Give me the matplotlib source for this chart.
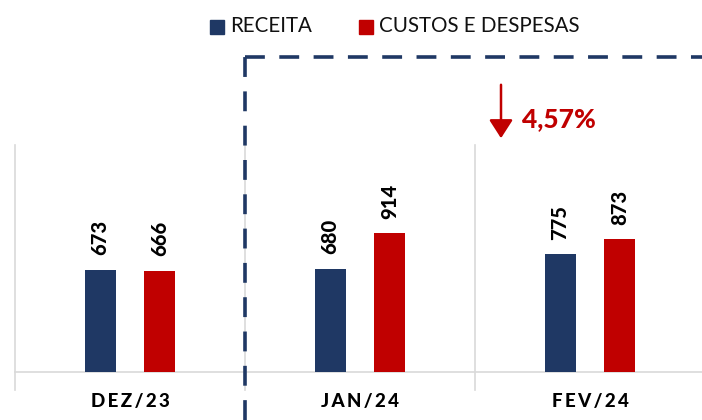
import matplotlib
matplotlib.use("Agg")
import matplotlib.pyplot as plt
from matplotlib.lines import Line2D

categories = ["DEZ/23", "JAN/24", "FEV/24"]
receita = [673, 680, 775]
custos = [666, 914, 873]
variacao = "4,57%"

NAVY = "#1F3864"
RED = "#C00000"
GRID = "#D9D9D9"

plt.rcParams["font.family"] = ["Lato", "DejaVu Sans"]

W, H = 702, 420
fig = plt.figure(figsize=(W / 100, H / 100), dpi=100)
ax = fig.add_axes([15 / W, 48 / H, 687 / W, 227 / H])

x = list(range(len(categories)))
width = 0.135
off = 0.13
ax.bar([i - off for i in x], receita, width, color=NAVY, zorder=3)
ax.bar([i + off for i in x], custos, width, color=RED, zorder=3)

for i in x:
    for xp, v in ((i - off, receita[i]), (i + off, custos[i])):
        ax.text(xp, v + 95, str(v), rotation=90, ha="center", va="bottom",
                fontsize=14.5, fontweight="black", color="black")

ax.set_xlim(-0.5, -0.5 + 687 / 230)
ax.set_ylim(0, 1495)

# separators between categories, extending below the axis like tick marks
for s in (-0.5, 0.5, 1.5):
    ax.axvline(s, ymin=-18 / 227, ymax=1, color=GRID, lw=1.2, clip_on=False, zorder=1)

for sp in ("top", "right", "left"):
    ax.spines[sp].set_visible(False)
ax.spines["bottom"].set_color(GRID)
ax.spines["bottom"].set_linewidth(1.2)
ax.set_yticks([])
ax.set_xticks(x)
spaced = ["\u2009".join(c) for c in categories]
ax.set_xticklabels(spaced, fontsize=13.5, fontweight="black")
ax.tick_params(axis="x", length=0, pad=15)

# dashed highlight box
dash = dict(color=NAVY, lw=2.6, dashes=(5.5, 4), transform=fig.transFigure)
fig.add_artist(Line2D([245 / W, 245 / W], [0, 1 - 57 / H], **dash))
fig.add_artist(Line2D([245 / W, 1.0], [1 - 57 / H, 1 - 57 / H], **dash))

# variation arrow
fig.add_artist(matplotlib.patches.FancyArrowPatch(
    (501 / W, 1 - 82 / H), (501 / W, 1 - 141 / H), transform=fig.transFigure,
    arrowstyle="-|>,head_length=7,head_width=4.5", color=RED, lw=1.8,
    mutation_scale=1.6))
fig.text(522 / W, 1 - 119 / H, variacao, color=RED, fontsize=19,
         fontweight="black", va="center", ha="left")

# legend
for lx, label, col in ((210, "RECEITA", NAVY), (359, "CUSTOS E DESPESAS", RED)):
    fig.add_artist(matplotlib.patches.Rectangle(
        (lx / W, 1 - 34 / H), 14 / W, 14 / H, transform=fig.transFigure,
        color=col))
    fig.text((lx + 20) / W, 1 - 26 / H, label, fontsize=14.8, va="center",
             ha="left", color="#111111")

fig.savefig("out.png", dpi=100)
